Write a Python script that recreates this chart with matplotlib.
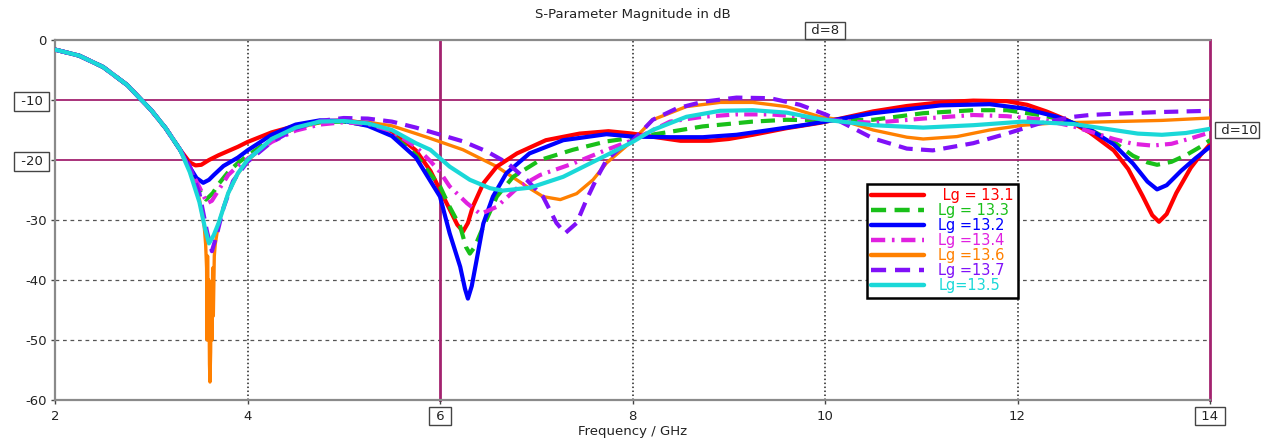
import matplotlib
matplotlib.use("Agg")
import matplotlib.pyplot as plt

# ---------------- data ----------------
f_common = [2.0, 2.25, 2.5, 2.75, 3.0, 3.15, 3.3]
s_common = [-1.6, -2.6, -4.5, -7.5, -11.7, -14.7, -18.3]

f_red = [3.4, 3.46, 3.52, 3.6, 3.7, 3.8, 3.9, 4.0, 4.25, 4.5, 4.75, 5.0, 5.25, 5.5, 5.75, 5.9, 6.0,
         6.1, 6.18, 6.24, 6.29, 6.34, 6.45, 6.59, 6.8, 7.1, 7.45, 7.75, 8.0, 8.2, 8.5, 8.8, 9.0,
         9.25, 9.6, 9.95, 10.16, 10.5, 10.85, 11.2, 11.54, 11.89, 12.1, 12.3, 12.51, 12.75, 13.0,
         13.15, 13.3, 13.4, 13.47, 13.55, 13.65, 13.8, 13.9, 14.0]
s_red = [-20.4, -20.9, -20.8, -20.0, -19.2, -18.5, -17.8, -17.0, -15.4, -14.3, -13.6, -13.4, -13.9,
         -15.2, -18.4, -21.8, -25.0, -28.2, -30.8, -31.9, -30.5, -27.8, -23.9, -21.1, -18.9, -16.7,
         -15.6, -15.2, -15.6, -16.1, -16.8, -16.8, -16.5, -15.8, -14.7, -13.8, -13.1, -11.9, -11.0,
         -10.4, -10.1, -10.2, -10.8, -11.9, -13.3, -15.4, -18.4, -21.5, -26.0, -29.2, -30.3, -29.0,
         -25.5, -21.3, -19.2, -17.4]

f_green = [3.4, 3.5, 3.57, 3.64, 3.7, 3.8, 3.9, 4.0, 4.25, 4.5, 4.75, 5.0, 5.25, 5.5, 5.75, 6.0,
           6.1, 6.21, 6.27, 6.31, 6.36, 6.45, 6.59, 6.76, 7.04, 7.38, 7.73, 8.0, 8.39, 8.73, 9.25,
           9.6, 10.0, 10.5, 11.02, 11.54, 11.89, 12.23, 12.51, 12.75, 13.0, 13.2, 13.35, 13.45,
           13.6, 13.75, 13.9, 14.0]
s_green = [-21.5, -25.0, -26.6, -25.5, -24.0, -22.0, -20.5, -19.3, -16.5, -14.6, -13.7, -13.6,
           -14.2, -15.8, -19.2, -24.4, -27.8, -31.1, -34.5, -35.6, -34.5, -31.1, -26.1, -22.8,
           -20.0, -18.3, -16.9, -16.3, -15.3, -14.4, -13.6, -13.3, -13.4, -13.3, -12.2, -11.7,
           -11.7, -12.5, -13.4, -14.9, -17.0, -19.3, -20.4, -20.8, -20.3, -19.2, -17.8, -16.7]

f_blue = [3.4, 3.47, 3.54, 3.6, 3.65, 3.75, 3.9, 4.0, 4.25, 4.5, 4.75, 5.0, 5.25, 5.5, 5.75, 6.0,
          6.1, 6.21, 6.26, 6.29, 6.33, 6.38, 6.45, 6.55, 6.69, 6.93, 7.28, 7.73, 8.0, 8.39, 8.73,
          9.08, 9.43, 9.77, 10.0, 10.5, 11.2, 11.71, 12.06, 12.41, 12.75, 13.0, 13.2, 13.35,
          13.45, 13.55, 13.7, 13.85, 14.0]
s_blue = [-21.2, -23.0, -23.8, -23.3, -22.5, -21.0, -19.6, -18.4, -15.8, -14.1, -13.4, -13.5,
          -14.3, -16.0, -19.6, -26.1, -32.2, -37.8, -41.5, -43.1, -41.0, -36.7, -30.6, -26.1,
          -22.2, -18.9, -16.7, -15.7, -16.1, -16.2, -16.2, -15.8, -15.0, -14.2, -13.6, -12.2,
          -10.9, -10.7, -11.4, -12.8, -14.9, -17.4, -20.6, -23.6, -24.9, -24.2, -21.8, -19.7,
          -17.8]

f_mag = [3.4, 3.5, 3.58, 3.63, 3.7, 3.8, 3.9, 4.0, 4.25, 4.5, 4.75, 5.0, 5.25, 5.5, 5.75, 5.9,
         6.0, 6.1, 6.28, 6.42, 6.59, 6.8, 7.04, 7.38, 7.73, 8.0, 8.39, 8.73, 9.08, 9.43, 9.77,
         10.0, 10.5, 11.02, 11.54, 11.89, 12.23, 12.58, 12.8, 13.0, 13.2, 13.4, 13.6, 13.8, 14.0]
s_mag = [-21.5, -24.5, -27.2, -26.8, -25.0, -22.5, -21.0, -19.8, -17.0, -15.1, -14.1, -13.7,
         -14.0, -15.2, -17.8, -20.2, -22.0, -24.4, -27.2, -29.0, -27.8, -24.7, -22.5, -20.6,
         -18.3, -16.7, -13.6, -12.8, -12.4, -12.4, -12.8, -13.3, -13.8, -13.1, -12.5, -12.7,
         -13.2, -14.4, -15.5, -16.5, -17.3, -17.6, -17.3, -16.4, -15.4]

f_orange = [3.4, 3.5, 3.55, 3.565, 3.575, 3.58, 3.585, 3.592, 3.598, 3.605, 3.61, 3.617, 3.622,
            3.63, 3.638, 3.645, 3.655, 3.665, 3.7, 3.8, 3.9, 4.0, 4.25, 4.5, 4.75, 5.0, 5.25,
            5.5, 5.75, 5.9, 6.24, 6.59, 6.9, 7.07, 7.25, 7.42, 7.59, 7.73, 8.0, 8.21, 8.56, 8.91,
            9.25, 9.6, 9.95, 10.16, 10.5, 10.85, 11.02, 11.37, 11.71, 12.06, 12.41, 12.75, 13.0,
            13.5, 14.0]
s_orange = [-21.5, -26.5, -31.0, -34.0, -38.0, -50.0, -36.0, -48.0, -40.0, -54.0, -57.0, -52.0,
            -42.0, -50.0, -38.0, -46.0, -36.0, -34.0, -30.5, -25.5, -22.3, -20.1, -16.6, -14.7,
            -13.8, -13.5, -13.7, -14.3, -15.6, -16.4, -18.3, -21.1, -24.4, -26.1, -26.6, -25.6,
            -23.3, -20.5, -16.8, -13.3, -11.1, -10.4, -10.4, -11.1, -12.8, -13.3, -15.0, -16.2,
            -16.5, -16.1, -15.0, -14.2, -13.8, -13.7, -13.6, -13.4, -13.0]

f_purple = [3.4, 3.5, 3.58, 3.63, 3.68, 3.75, 3.85, 4.0, 4.25, 4.5, 4.75, 5.0, 5.25, 5.5, 5.75,
            5.9, 6.24, 6.49, 6.7, 6.9, 7.07, 7.21, 7.3, 7.42, 7.52, 7.63, 7.73, 7.85, 8.0, 8.21,
            8.46, 8.73, 9.08, 9.43, 9.74, 10.02, 10.16, 10.5, 10.85, 11.12, 11.54, 11.89, 12.23,
            12.58, 12.75, 13.0, 13.5, 14.0]
s_purple = [-21.0, -25.5, -32.0, -35.2, -32.5, -28.0, -23.5, -20.3, -17.0, -14.8, -13.5, -13.0,
            -13.1, -13.6, -14.6, -15.3, -16.9, -18.6, -20.5, -23.3, -26.1, -30.5, -32.2, -30.5,
            -26.7, -23.0, -20.0, -18.3, -16.8, -13.3, -11.4, -10.3, -9.6, -9.7, -10.8, -12.5,
            -13.6, -16.4, -18.1, -18.4, -17.2, -15.6, -13.9, -12.8, -12.5, -12.3, -12.0, -11.8]

f_cyan = [3.4, 3.5, 3.56, 3.6, 3.65, 3.7, 3.8, 3.9, 4.0, 4.25, 4.5, 4.75, 5.0, 5.25, 5.5, 5.75,
          5.9, 6.1, 6.31, 6.52, 6.65, 6.94, 7.28, 7.73, 8.0, 8.21, 8.56, 8.91, 9.25, 9.6, 9.95,
          10.5, 11.02, 11.54, 12.06, 12.58, 13.0, 13.25, 13.5, 13.75, 14.0]
s_cyan = [-22.0, -27.0, -31.5, -33.9, -32.5, -30.5, -25.5, -22.2, -20.0, -16.5, -14.6, -13.6,
          -13.5, -13.9, -15.0, -17.2, -18.3, -21.1, -23.3, -24.7, -25.1, -24.6, -22.8, -19.2,
          -17.0, -15.0, -12.8, -11.8, -11.7, -12.1, -13.2, -14.2, -14.6, -14.2, -13.6, -14.0,
          -15.0, -15.6, -15.8, -15.5, -14.8]

labels = [" Lg = 13.1", "Lg = 13.3", "Lg =13.2", "Lg =13.4", "Lg =13.6", "Lg =13.7", "Lg=13.5"]
yticks = [0, -10, -20, -30, -40, -50, -60]
xticks = [2, 4, 6, 8, 10, 12, 14]
title = "S-Parameter Magnitude in dB"
xlabel = "Frequency / GHz"

# ---------------- figure ----------------
plt.rcParams['font.family'] = ['DejaVu Sans']
fig = plt.figure(figsize=(12.76, 4.41), dpi=100)
ax = fig.add_axes([55/1276, 1 - 400/441, (1210 - 55)/1276, 360/441])

MK = '#a3226f'
ax.set_xlim(2, 14)
ax.set_ylim(-60, 0)

# grid
for xv in [4, 8, 10, 12]:
    ax.axvline(xv, color='#222222', lw=1.1, ls=(0, (1, 1.6)), zorder=1)
for yv in [-30, -40, -50]:
    ax.axhline(yv, color='#555555', lw=0.9, ls=(0, (3, 3)), zorder=1)
# markers
for yv in [-10, -20]:
    ax.axhline(yv, color=MK, lw=1.3, zorder=1.5)
for xv in [6, 14]:
    ax.axvline(xv, color=MK, lw=2.0, zorder=1.5, clip_on=False)

LW = 3.0
def full(f, s):
    return f_common + f, s_common + s

series = [
    (f_red, s_red, '#ff0000', '-', LW, 4),
    (f_green, s_green, '#19c019', (0, (3.4, 1.9)), LW, 4),
    (f_blue, s_blue, '#0000ff', '-', LW, 4),
    (f_mag, s_mag, '#e020e0', (0, (3.2, 1.5, 0.6, 1.5)), LW, 4),
    (f_orange, s_orange, '#ff8000', '-', 2.4, 3),
    (f_purple, s_purple, '#8010f8', (0, (3.4, 2.0)), LW, 4),
    (f_cyan, s_cyan, '#1ad8d8', '-', LW, 4),
]
order_z = [4, 4, 4, 4, 3, 4.5, 5]
handles = []
for (f, s, c, ls, lw, z), lab, zz in zip(series, labels, order_z):
    x, y = full(f, s)
    h, = ax.plot(x, y, color=c, ls=ls, lw=lw, zorder=zz, label=lab,
                 solid_joinstyle='round', solid_capstyle='round', dash_capstyle='butt')
    handles.append(h)

# axes styling
for sp in ['left', 'bottom', 'top']:
    ax.spines[sp].set_color('#8a8a8a')
    ax.spines[sp].set_linewidth(1.6)
ax.spines['right'].set_visible(False)

ax.set_yticks(yticks)
ylabs = [str(v) if v not in (-10, -20) else ' ' + str(v) + ' ' for v in yticks]
ax.set_yticklabels(ylabs)
ax.set_xticks(xticks)
ax.set_xticklabels([(' %d ' % v) if v in (6, 14) else str(v) for v in xticks])
ax.tick_params(axis='both', direction='out', length=3, width=1, colors='#444444',
               labelcolor='#222222', labelsize=9.5)
ax.tick_params(axis='x', pad=4)
ax.tick_params(axis='y', pad=3)

for t, v in zip(ax.yaxis.get_major_ticks(), yticks):
    if v in (-10, -20):
        t.label1.set_bbox(dict(boxstyle='square,pad=0.2', fc='white', ec='#444444', lw=1))
for t, v in zip(ax.xaxis.get_major_ticks(), xticks):
    if v in (6, 14):
        t.label1.set_bbox(dict(boxstyle='square,pad=0.2', fc='white', ec='#444444', lw=1))

ax.set_title(title, fontsize=9.5, color='#222222', pad=16)
ax.set_xlabel(xlabel, fontsize=9.5, color='#222222', labelpad=2)

ax.text(10, 1.6, ' d=8 ', ha='center', va='center', fontsize=9.5, color='#222222',
        bbox=dict(boxstyle='square,pad=0.15', fc='white', ec='#444444', lw=1), clip_on=False)
ax.text(14.07, -15.0, ' d=10', ha='left', va='center', fontsize=9.5, color='#222222',
        bbox=dict(boxstyle='square,pad=0.15', fc='white', ec='#444444', lw=1), clip_on=False)

leg = ax.legend(handles=handles, labels=labels, loc='upper left',
                bbox_to_anchor=(0.703, 0.6), fontsize=10.5, frameon=True, fancybox=False,
                framealpha=1, edgecolor='black', handlelength=3.6, handletextpad=1.0,
                labelspacing=0.0, borderpad=0.3, borderaxespad=0)
leg.get_frame().set_linewidth(1.8)
for txt, (f, s, c, ls, lw, z) in zip(leg.get_texts(), series):
    txt.set_color(c)
for lh in leg.get_lines():
    lh.set_linewidth(3.2)
leg.set_zorder(10)

fig.savefig('out.png', dpi=100)
